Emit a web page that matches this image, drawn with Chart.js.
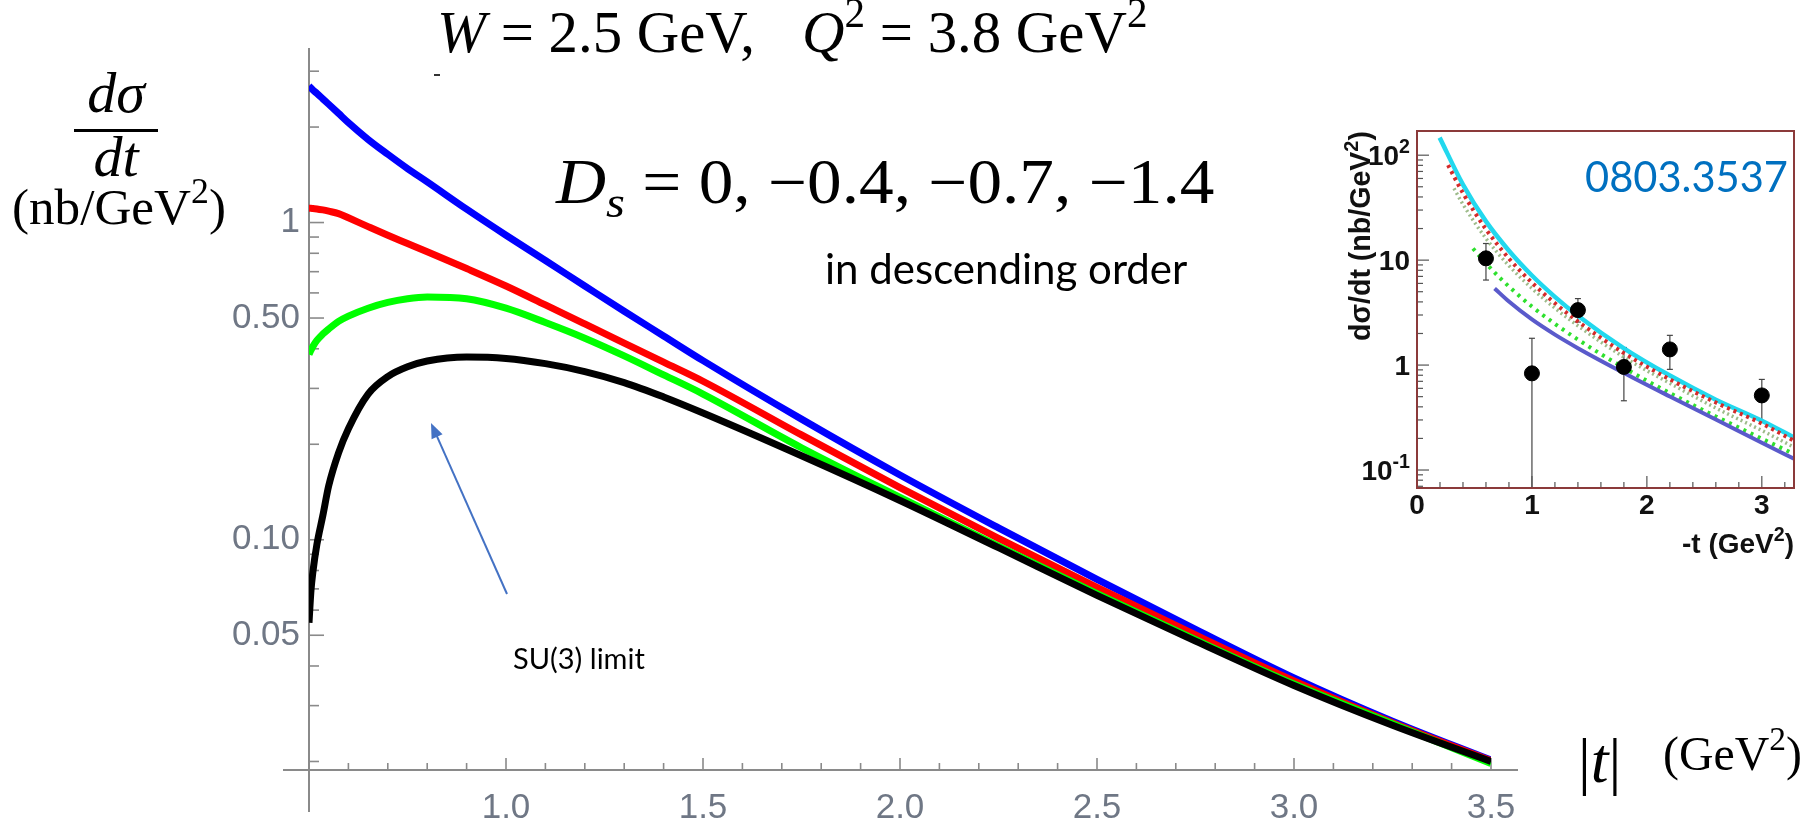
<!DOCTYPE html>
<html>
<head>
<meta charset="utf-8">
<script src="https://cdn.jsdelivr.net/npm/chart.js@4.4.1/dist/chart.umd.min.js"></script>
<style>
  html, body { margin: 0; padding: 0; background: #fff; overflow: hidden; }
  #wrap  { position: relative; width: 1818px; height: 822px; }
  #main  { position: absolute; left: 0; top: 0; width: 1818px; height: 822px; }
  #inset { position: absolute; left: 1320px; top: 100px; width: 498px; height: 480px; }
</style>
</head>
<body>
<div id="wrap">
  <div id="main"><canvas id="cMain"></canvas></div>
  <div id="inset"><canvas id="cInset"></canvas></div>
</div>
<script>
// ── MAIN PLOT DATA (|t| in GeV², dσ/dt in nb/GeV²) ──
const tGrid = [0.5, 0.505, 0.51, 0.52, 0.535, 0.55, 0.575, 0.6, 0.65, 0.7, 0.75, 0.8, 0.9,
               1.0, 1.1, 1.2, 1.3, 1.4, 1.5, 1.75, 2.0, 2.25, 2.5, 2.75, 3.0, 3.25, 3.5];
// Ds = 0
const blueVals  = [2.692, 2.655, 2.618, 2.553, 2.455, 2.360, 2.208, 2.065, 1.828, 1.641, 1.479, 1.343, 1.102,
                   0.912, 0.759, 0.631, 0.525, 0.439, 0.367, 0.240, 0.160, 0.109, 0.0750, 0.0522, 0.0367, 0.0268, 0.0202];
// Ds = -0.4
const redVals   = [1.109, 1.109, 1.107, 1.104, 1.096, 1.086, 1.067, 1.035, 0.971, 0.912, 0.859, 0.809, 0.716,
                   0.631, 0.550, 0.479, 0.417, 0.363, 0.316, 0.214, 0.146, 0.101, 0.0708, 0.0501, 0.0359, 0.0265, 0.0201];
// Ds = -0.7
const greenVals = [0.384, 0.396, 0.407, 0.425, 0.445, 0.462, 0.488, 0.507, 0.537, 0.560, 0.575, 0.582, 0.575,
                   0.537, 0.484, 0.432, 0.380, 0.331, 0.288, 0.195, 0.136, 0.0955, 0.0676, 0.0484, 0.0351, 0.0263, 0.0197];
// Ds = -1.4 (SU(3) limit)
const blackVals = [0.0547, 0.0692, 0.0794, 0.0966, 0.119, 0.148, 0.188, 0.224, 0.288, 0.327, 0.351, 0.366, 0.377,
                   0.373, 0.359, 0.339, 0.313, 0.282, 0.251, 0.184, 0.133, 0.0944, 0.0668, 0.0479, 0.0347, 0.0260, 0.0200];

const xTickVals   = [1.0, 1.5, 2.0, 2.5, 3.0, 3.5];
const xMinorTicks = [0.6, 0.7, 0.8, 0.9, 1.1, 1.2, 1.3, 1.4, 1.6, 1.7, 1.8, 1.9, 2.1, 2.2, 2.3, 2.4,
                     2.6, 2.7, 2.8, 2.9, 3.1, 3.2, 3.3, 3.4];
const yTickVals   = [0.05, 0.1, 0.5, 1];
const yTickLabels = ['0.05', '0.10', '0.50', '1'];
const yMinorTicks = [0.02, 0.03, 0.04, 0.06, 0.07, 0.08, 0.09, 0.2, 0.3, 0.4, 0.6, 0.7, 0.8, 0.9, 2, 3];

// ── INSET DATA (0803.3537) ──
const cyanT   = [0.197, 0.4, 0.6, 0.8, 1.0, 1.2, 1.4, 1.8, 2.2, 2.6, 3.0, 3.28];
const cyanV   = [147, 52.5, 23.4, 12.3, 7.14, 4.47, 2.95, 1.445, 0.794, 0.468, 0.295, 0.204];
const redT    = [0.27, 0.4, 0.6, 0.8, 1.0, 1.2, 1.4, 1.8, 2.2, 2.6, 3.0, 3.28];
const redV    = [80.4, 43.5, 19.7, 10.35, 6.1, 3.88, 2.6, 1.30, 0.73, 0.44, 0.277, 0.19];
const oliveT  = [0.322, 0.4, 0.6, 0.8, 1.0, 1.2, 1.4, 1.8, 2.2, 2.6, 3.0, 3.28];
const oliveV  = [48.2, 34.0, 16.1, 8.85, 5.38, 3.49, 2.37, 1.19, 0.671, 0.39, 0.238, 0.165];
const greenT  = [0.487, 0.6, 0.72, 0.8, 1.0, 1.2, 1.4, 1.8, 2.2, 2.6, 3.0, 3.28];
const greenV  = [12.9, 9.33, 6.79, 5.6, 3.61, 2.47, 1.75, 0.942, 0.542, 0.324, 0.199, 0.142];
const purpleT = [0.675, 0.8, 1.0, 1.2, 1.4, 1.8, 2.2, 2.6, 3.0, 3.28];
const purpleV = [5.37, 4.03, 2.72, 1.95, 1.45, 0.841, 0.502, 0.303, 0.182, 0.128];
const ptsX    = [0.6, 1.0, 1.4, 1.8, 2.2, 3.0];
const ptsY    = [10.4, 0.834, 3.34, 0.96, 1.41, 0.514];
const errLo   = [6.46, 0.05, 2.57, 0.457, 0.91, 0.29];
const errHi   = [14.4, 1.8, 4.3, 1.47, 1.92, 0.73];
const insetXTicks = [0, 1, 2, 3];
const insetXMinor = [0.2, 0.4, 0.6, 0.8, 1.2, 1.4, 1.6, 1.8, 2.2, 2.4, 2.6, 2.8, 3.2];
const insetYTicks = [0.1, 1, 10, 100];
const insetYMinor = [0.07, 0.08, 0.09, 0.2, 0.3, 0.4, 0.5, 0.6, 0.7, 0.8, 0.9, 2, 3, 4, 5, 6, 7, 8, 9,
                     20, 30, 40, 50, 60, 70, 80, 90];

const SERIF = "'Liberation Serif', 'DejaVu Serif', serif";
const SANS  = "Lato, 'Open Sans', 'Noto Sans', sans-serif";
const ARIAL = "'Liberation Sans', Arial, sans-serif";
const TICK_COLOR = '#6f7785';
const AXIS_COLOR = '#8a8a8a';

const pts = (xs, ys) => xs.map((x, i) => ({ x, y: ys[i] }));

// ── small text helpers ──
function segFont(p, size, family) {
  const s = (p.sup || p.sub) ? size * 0.7 : size;
  return (p.it ? 'italic ' : '') + (p.bold ? 'bold ' : '') + s + 'px ' + family;
}
function richWidth(ctx, parts, size, family) {
  let w = 0;
  parts.forEach(p => { ctx.font = segFont(p, size, family); w += ctx.measureText(p.t).width; });
  return w;
}
function drawRich(ctx, x, y, parts, size, family, color) {
  ctx.fillStyle = color || '#000';
  ctx.textAlign = 'left';
  ctx.textBaseline = 'alphabetic';
  parts.forEach(p => {
    ctx.font = segFont(p, size, family);
    const dy = p.sup ? -size * 0.42 : (p.sub ? size * 0.22 : 0);
    ctx.fillText(p.t, x, y + dy);
    x += ctx.measureText(p.t).width;
  });
  return x;
}
// LaTeX fonts run wider than Times, so stretch a little
function drawWide(ctx, x, y, parts, size, family, sx) {
  ctx.save();
  ctx.translate(x, y);
  ctx.scale(sx, 1);
  const end = drawRich(ctx, 0, 0, parts, size, family);
  ctx.restore();
  return x + end * sx;
}
function fitSize(ctx, parts, family, width) {
  return 100 * width / richWidth(ctx, parts, 100, family);
}
function seg(ctx, x1, y1, x2, y2) {
  ctx.beginPath(); ctx.moveTo(x1, y1); ctx.lineTo(x2, y2); ctx.stroke();
}

// ── Mathematica-style crossing axes ──
const axesPlugin = {
  id: 'mmaAxes',
  beforeDatasetsDraw(chart) {
    const { ctx, chartArea: a, scales: { x, y } } = chart;
    ctx.save();
    ctx.strokeStyle = AXIS_COLOR;
    ctx.lineWidth = 2;
    seg(ctx, a.left, a.top, a.left, a.bottom + 42);
    seg(ctx, a.left - 26, a.bottom, a.right + 27, a.bottom);
    ctx.lineWidth = 1.6;
    yTickVals.forEach(v => { const p = y.getPixelForValue(v); seg(ctx, a.left, p, a.left + 15, p); });
    yMinorTicks.forEach(v => { const p = y.getPixelForValue(v); seg(ctx, a.left, p, a.left + 10, p); });
    xTickVals.forEach(v => { const p = x.getPixelForValue(v); seg(ctx, p, a.bottom, p, a.bottom - 12); });
    xMinorTicks.forEach(v => { const p = x.getPixelForValue(v); seg(ctx, p, a.bottom, p, a.bottom - 7); });
    ctx.restore();
  }
};

// ── labels and annotations of the main plot ──
const notesPlugin = {
  id: 'notes',
  afterDraw(chart) {
    const ctx = chart.ctx;
    ctx.save();

    // title
    const t1 = [{ t: 'W', it: 1 }, { t: ' = 2.5 GeV,' }];
    const ts = fitSize(ctx, t1, SERIF, 318);
    const e1 = drawRich(ctx, 437, 52, t1, ts, SERIF);
    drawRich(ctx, e1 + ts * 0.8, 52,
      [{ t: 'Q', it: 1 }, { t: '2', sup: 1 }, { t: ' = 3.8 GeV' }, { t: '2', sup: 1 }], ts, SERIF);
    ctx.fillStyle = '#333';
    ctx.fillRect(434, 74, 6, 2);

    // Ds values
    drawWide(ctx, 556, 203,
      [{ t: 'D', it: 1 }, { t: 's', it: 1, sub: 1 }, { t: ' = 0, \u22120.4, \u22120.7, \u22121.4' }], 63, SERIF, 1.1);
    ctx.font = '42px ' + SANS;
    ctx.fillStyle = '#000';
    ctx.fillText('in descending order', 825, 284);

    // y-axis label dσ/dt
    const cx = 116;
    const dsz = 58;
    const top = [{ t: 'd\u03c3', it: 1 }];
    const bot = [{ t: 'dt', it: 1 }];
    drawRich(ctx, cx - richWidth(ctx, top, dsz, SERIF) / 2, 112, top, dsz, SERIF);
    drawRich(ctx, cx - richWidth(ctx, bot, dsz, SERIF) / 2, 176, bot, dsz, SERIF);
    ctx.fillStyle = '#000';
    ctx.fillRect(cx - 42, 129, 84, 3);
    const unit = [{ t: '(nb/GeV' }, { t: '2', sup: 1 }, { t: ')' }];
    drawRich(ctx, 12, 224, unit, fitSize(ctx, unit, SERIF, 214), SERIF);

    // x-axis label |t| (GeV²)
    drawRich(ctx, 1578, 782, [{ t: '|' }, { t: 't', it: 1 }, { t: '|' }], 64, SERIF);
    const xu = [{ t: '(GeV' }, { t: '2', sup: 1 }, { t: ')' }];
    drawRich(ctx, 1663, 770, xu, fitSize(ctx, xu, SERIF, 139), SERIF);

    // SU(3) arrow
    ctx.strokeStyle = '#4472c4';
    ctx.fillStyle = '#4472c4';
    ctx.lineWidth = 2;
    const x0 = 507, y0 = 594, x1 = 431, y1 = 423;
    const ang = Math.atan2(y1 - y0, x1 - x0);
    seg(ctx, x0, y0, x1 - 12 * Math.cos(ang), y1 - 12 * Math.sin(ang));
    ctx.beginPath();
    ctx.moveTo(x1, y1);
    ctx.lineTo(x1 - 15 * Math.cos(ang) + 6 * Math.sin(ang), y1 - 15 * Math.sin(ang) - 6 * Math.cos(ang));
    ctx.lineTo(x1 - 15 * Math.cos(ang) - 6 * Math.sin(ang), y1 - 15 * Math.sin(ang) + 6 * Math.cos(ang));
    ctx.closePath();
    ctx.fill();
    ctx.font = '29px ' + SANS;
    ctx.fillStyle = '#000';
    ctx.fillText('SU(3) limit', 513, 669);
    ctx.restore();
  }
};

const lineDs = (data, color) => ({
  data, borderColor: color, backgroundColor: color, borderWidth: 7,
  pointRadius: 0, cubicInterpolationMode: 'monotone', fill: false
});

new Chart(document.getElementById('cMain'), {
  type: 'line',
  data: {
    datasets: [
      lineDs(pts(tGrid, blackVals), '#000000'),
      lineDs(pts(tGrid, greenVals), '#00ff00'),
      lineDs(pts(tGrid, redVals),   '#ff0000'),
      lineDs(pts(tGrid, blueVals),  '#0000ff')
    ]
  },
  options: {
    responsive: true, maintainAspectRatio: false, animation: false, devicePixelRatio: 1,
    layout: { padding: { left: 0, top: 48, right: 327, bottom: 0 } },
    plugins: { legend: { display: false }, tooltip: { enabled: false } },
    scales: {
      x: {
        type: 'linear', min: 0.5, max: 3.5,
        grid: { display: false, drawTicks: false }, border: { display: false },
        afterBuildTicks: s => { s.ticks = xTickVals.map(v => ({ value: v })); },
        afterFit: s => { s.height = 52; },
        ticks: { autoSkip: false, maxRotation: 0, padding: 17, color: TICK_COLOR,
                 font: { family: ARIAL, size: 35 }, callback: v => Number(v).toFixed(1) }
      },
      y: {
        type: 'logarithmic', min: 0.0188, max: 3.55,
        grid: { display: false, drawTicks: false }, border: { display: false },
        afterBuildTicks: s => { s.ticks = yTickVals.map(v => ({ value: v })); },
        afterFit: s => { s.width = 309; },
        ticks: { autoSkip: false, padding: 9, color: TICK_COLOR, font: { family: ARIAL, size: 35 },
                 callback: v => { const i = yTickVals.indexOf(v); return i < 0 ? '' : yTickLabels[i]; } }
      }
    }
  },
  plugins: [axesPlugin, notesPlugin]
});

// ── INSET (ROOT-style) ──
const insetPlugin = {
  id: 'rootFrame',
  beforeDatasetsDraw(chart) {
    const { ctx, chartArea: a, scales: { x, y } } = chart;
    ctx.save();
    // error bars
    ctx.beginPath(); ctx.rect(a.left, a.top, a.right - a.left, a.bottom - a.top); ctx.clip();
    ctx.strokeStyle = '#444'; ctx.lineWidth = 1.2;
    ptsX.forEach((v, i) => {
      const px = x.getPixelForValue(v);
      const lo = y.getPixelForValue(errLo[i]), hi = y.getPixelForValue(errHi[i]);
      seg(ctx, px, lo, px, hi);
      seg(ctx, px - 3, hi, px + 3, hi);
      seg(ctx, px - 3, lo, px + 3, lo);
    });
    ctx.restore();
  },
  afterDraw(chart) {
    const { ctx, chartArea: a, scales: { x, y } } = chart;
    ctx.save();
    ctx.strokeStyle = '#555'; ctx.lineWidth = 1.2;
    insetXTicks.forEach(v => { const p = x.getPixelForValue(v); seg(ctx, p, a.bottom, p, a.bottom - 12); });
    insetXMinor.forEach(v => { const p = x.getPixelForValue(v); seg(ctx, p, a.bottom, p, a.bottom - 6); });
    insetYTicks.forEach(v => { const p = y.getPixelForValue(v); seg(ctx, a.left, p, a.left + 12, p); });
    insetYMinor.forEach(v => {
      const p = y.getPixelForValue(v);
      if (p > a.top && p < a.bottom) seg(ctx, a.left, p, a.left + 6, p);
    });
    ctx.strokeStyle = '#8b3a3a'; ctx.lineWidth = 2;
    ctx.strokeRect(a.left, a.top, a.right - a.left, a.bottom - a.top);

    ctx.fillStyle = '#111';
    ctx.font = 'bold 28px ' + ARIAL;
    ctx.textAlign = 'center'; ctx.textBaseline = 'middle';
    insetXTicks.forEach(v => ctx.fillText(String(v), x.getPixelForValue(v), a.bottom + 18));
    const yl = [
      [{ t: '10', bold: 1 }, { t: '-1', bold: 1, sup: 1 }],
      [{ t: '1', bold: 1 }],
      [{ t: '10', bold: 1 }],
      [{ t: '10', bold: 1 }, { t: '2', bold: 1, sup: 1 }]
    ];
    insetYTicks.forEach((v, i) => {
      const w = richWidth(ctx, yl[i], 28, ARIAL);
      drawRich(ctx, a.left - 7 - w, y.getPixelForValue(v) + 10, yl[i], 28, ARIAL, '#111');
    });
    const xt = [{ t: '-t (GeV', bold: 1 }, { t: '2', bold: 1, sup: 1 }, { t: ')', bold: 1 }];
    drawRich(ctx, a.right - richWidth(ctx, xt, 28, ARIAL), a.bottom + 65, xt, 28, ARIAL, '#111');
    const yt = [{ t: 'd\u03c3/dt (nb/GeV', bold: 1 }, { t: '2', bold: 1, sup: 1 }, { t: ')', bold: 1 }];
    ctx.translate(a.left - 47, a.top + 105);
    ctx.rotate(-Math.PI / 2);
    const ys = fitSize(ctx, yt, ARIAL, 210);
    drawRich(ctx, -richWidth(ctx, yt, ys, ARIAL) / 2, 0, yt, ys, ARIAL, '#111');
    ctx.setTransform(1, 0, 0, 1, 0, 0);
    const id = [{ t: '0803.3537' }];
    drawRich(ctx, 265, 92, id, fitSize(ctx, id, SANS, 203), SANS, '#0070c0');
    ctx.restore();
  }
};

const rootLine = (data, color, width, dash) => ({
  type: 'line', data, borderColor: color, backgroundColor: color, borderWidth: width,
  borderDash: dash || [], pointRadius: 0, cubicInterpolationMode: 'monotone', fill: false
});

new Chart(document.getElementById('cInset'), {
  data: {
    datasets: [
      { type: 'scatter', data: pts(ptsX, ptsY), pointRadius: 7.5, backgroundColor: '#000', borderColor: '#000' },
      rootLine(pts(purpleT, purpleV), '#5a5acb', 4),
      rootLine(pts(greenT, greenV), '#2ee02e', 4, [3, 5]),
      rootLine(pts(oliveT, oliveV), '#9dbb8a', 3.5, [2, 3]),
      rootLine(pts(redT, redV), '#d42a2a', 4, [3, 4]),
      rootLine(pts(cyanT, cyanV), '#22d8ee', 4.5)
    ]
  },
  options: {
    responsive: true, maintainAspectRatio: false, animation: false, devicePixelRatio: 1,
    layout: { padding: { left: 0, top: 31, right: 24, bottom: 0 } },
    plugins: { legend: { display: false }, tooltip: { enabled: false } },
    scales: {
      x: { type: 'linear', min: 0, max: 3.28, ticks: { display: false },
           grid: { display: false, drawTicks: false }, border: { display: false },
           afterFit: s => { s.height = 92; } },
      y: { type: 'logarithmic', min: 0.0674, max: 170, ticks: { display: false },
           grid: { display: false, drawTicks: false }, border: { display: false },
           afterFit: s => { s.width = 97; } }
    }
  },
  plugins: [insetPlugin]
});
</script>
</body>
</html>
